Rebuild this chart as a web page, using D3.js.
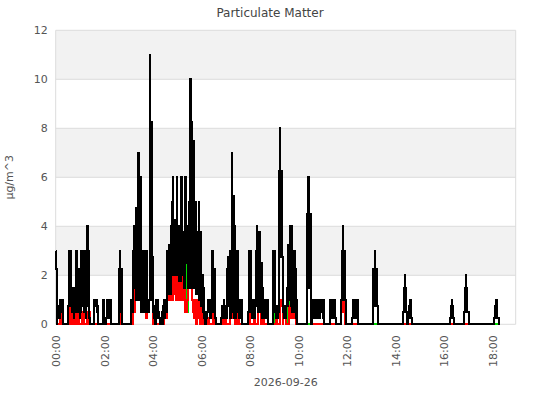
<!DOCTYPE html>
<html>
<head>
<meta charset="utf-8">
<script src="https://cdn.jsdelivr.net/npm/d3@7"></script>
<style>
  body { margin: 0; background: #fff; }
  text { font-family: "DejaVu Sans", sans-serif; }
</style>
</head>
<body>
<script>
// readings as [minutes after midnight, µg/m^3]
const day = [2026, 8, 26];
const yTicks = [0, 2, 4, 6, 8, 10, 12];
const xTickHours = [0, 2, 4, 6, 8, 10, 12, 14, 16, 18];

const pm10 = [
  [0,3],[1,2.25],[2,0],[3,0.75],[5,0.25],[7,0.75],[9,0.25],[11,1],[13,0.5],[15,1],[17,0.25],[18,0.75],[19,0],
  [31,0.75],[32,3],[33,0.75],[35,3],[36,1],[38,3],[39,0.75],[41,0.5],[43,1.5],[44,0.25],[46,1.5],[47,0.5],[49,3],[50,0.75],[52,3],[53,0.5],[55,2.25],[56,1],[58,2.25],[59,0.25],[60,1],[61,0.5],[63,3],[64,0.75],[66,3],[67,1],[68,3],[69,0.5],[71,2.25],[72,0.5],[73,2.25],[74,0.25],[76,3],[78,4],[79,3],[80,0.75],[81,3],[82,0.25],[84,0],
  [94,0.5],[95,1],[97,0.75],[99,1],[101,0.5],[103,0.75],[104,0],
  [116,0.75],[117,1],[119,0.25],[121,0],[124,0.25],[126,1],[128,0.5],[130,1],[132,0.25],[134,1],[136,0],
  [157,2.25],[158,3],[159,2.25],[160,0.5],[161,2.25],[163,0],
  [186,0.25],[187,1],[189,0.5],[191,1],[192,3],[193,4],[194,2.25],[195,4],[196,1.5],[198,4.75],[199,1],[200,4.75],[201,2.25],[202,4.75],[203,6],[204,7],[205,6],[206,1],[207,6],[208,2.25],[209,6],[210,1],[211,2.25],[212,0.5],[213,2.25],[214,0.75],[216,3],[217,0.5],[218,3],[219,0.75],[220,1.5],[222,3],[223,0.5],[224,3],[225,0.75],[227,1],[229,0.5],[231,1],[232,8.25],[233,11],[234,8.25],[235,2.75],[236,8.25],[237,2.75],[238,8.25],[239,1],[240,2.75],[241,0.5],[242,0.75],[243,0.25],[244,0.75],[246,0],[248,0.75],[249,1],[251,0.25],[252,1],[254,0.5],[256,0.25],[258,0],
  [260,0.25],[262,0.5],[264,0],[266,0.75],[267,1],[269,0.25],[271,1],[273,0.5],[275,1],[276,3],[277,1.25],[279,3.25],[280,1.5],[282,3],[283,1.25],[284,4],[285,2],[287,5],[288,2],
  [290,6],[291,2.25],[295,4.25],[296,2],[300,6],[301,2.5],[305,4],[306,1.75],[310,6],[311,2],[315,3.75],[316,1.5],[320,6],[321,2.5],[325,4],[326,1.5],
  [329,5],[330,2],[332,8.25],[333,10],[334,8.25],[335,1.5],[336,8.25],[337,2],[340,7.5],[341,2.5],[342,7.5],[343,1.5],
  [346,5],[347,1.25],[350,3.75],[351,1.5],[353,5],[354,1],[357,3.75],[358,0.75],
  [362,2],[363,0.5],[365,1.5],[366,0.25],[368,0.5],[370,0],[372,0.25],[374,0.5],[376,1],[378,0.5],[380,1],[382,0.25],[384,0.75],[386,2.25],[387,3],[388,2.25],[389,0.5],[390,2.25],[391,0.75],[392,2.25],[393,0.25],[395,0],
  [409,0.25],[411,0.75],[413,0.25],[415,1],[417,0.5],[419,0.75],[421,0.25],[423,1],[424,2.25],[425,0.75],[426,2.75],[428,1],[429,2.25],[430,0.5],[431,3],[432,0.25],[433,3],[434,1],[435,5.25],[436,7],[437,5.25],[438,0.5],[439,5.25],[440,0.25],[441,4],[442,0.75],[444,0.25],[446,0.75],[447,3],[448,0.75],[449,3],[450,0.5],[451,1],[453,0.25],[455,1],[457,0.5],[459,1],[461,0],
  [476,0.5],[477,0.75],[478,3],[480,0.5],[481,3],[482,0.75],[484,0.25],[485,1],[487,0.5],[489,1],[491,0.25],[493,1],[495,0.75],[496,3],[497,4],[498,2.75],[499,0.75],[500,3.75],[501,0.5],[502,3.25],[504,1],[505,3.75],[506,1.5],[507,2.5],[508,0.5],[509,2.5],[510,0.25],[511,1.5],[512,0.5],[513,0.75],[515,0.25],[516,1],[518,0.25],[520,1],[522,0.5],[523,1],[525,0],
  [537,0.25],[538,3],[539,0.75],[540,3],[541,0.5],[542,3],[543,0.75],[544,0.25],[546,0.75],[548,0.25],[550,0.75],[552,0.5],[553,6.25],[554,8],[555,2.75],[556,6.25],[557,2.75],[558,6.25],[559,2.75],[561,0.5],[564,0.25],[566,0.75],[568,0.25],[570,0.75],[572,1.5],[573,3.25],[574,0.75],[575,3.25],[576,1],[577,2.75],[578,1.5],[579,3.5],[580,4],[581,0.75],[582,4],[583,1.5],[584,3],[585,0.5],[586,3],[587,0.75],[588,2.25],[589,0.5],[591,3],[592,0.75],[593,2.25],[594,0.25],[595,1],[596,0],
  [620,1.5],[621,4.5],[622,1.5],[623,4.5],[624,6],[625,4.5],[626,1.5],[627,4.5],[628,1.5],[629,4.5],[630,1.5],[632,0],
  [634,0.25],[637,1],[638,0.25],[640,1],[641,0.5],[643,1],[645,0.25],[647,1],[648,0.5],[650,1],[652,0.25],[654,1],[656,0.5],[658,1],[660,0.25],[662,1],[663,0.5],[664,0],
  [678,0.25],[679,1],[680,0.25],[682,1],[684,0.25],[686,1],[688,0.25],[689,1],[691,0.25],[692,0],
  [706,1],[707,3],[708,1],[709,3],[710,4],[711,3],[712,1],[713,3],[714,1],[715,3],[716,1],[718,0],
  [733,0.25],[734,1],[736,0.5],[738,1],[740,0.25],[742,0.75],[744,1],[746,0.25],[748,0],
  [784,0.75],[785,2.25],[786,0.75],[787,2.25],[788,3],[789,2.25],[790,0.75],[791,2.25],[792,0.75],[793,2.25],[794,0.75],[797,0],
  [858,0.5],[861,1.5],[862,0.5],[863,2],[864,1.5],[865,0.5],[866,1.5],[867,0.5],[869,0],
  [871,0.25],[874,0.75],[875,0.25],[876,1],[877,0.75],[878,0.25],[881,0],
  [974,0.25],[977,0.75],[978,0.25],[979,1],[980,0.75],[981,0.25],[985,0],
  [1008,0.5],[1011,1.5],[1012,0.5],[1013,2],[1014,1.5],[1015,0.5],[1016,1.5],[1017,0.5],[1021,0],
  [1084,0.25],[1087,0.75],[1088,0.25],[1089,1],[1090,0.75],[1091,0.25],[1095,0],[1097,0]
];

const pm25 = [
  [0,0.5],[3,0],[10,0.75],[12,0],[14,0.75],[16,0],
  [33,0.75],[34,0],[36,0.75],[37,0.25],[39,0],[43,1.5],[45,0.5],[46,1.5],[48,0],[51,0.5],[53,0],[56,0.75],[58,0],[64,0.5],[65,0.25],[67,0.5],[69,0],[77,0.5],[79,0],[82,0.5],[84,0],
  [159,0.75],[160,0.5],[162,0.75],[164,0],
  [190,0.5],[195,1],[197,3.25],[199,1.5],[201,3],[203,1],[205,2.25],[207,1.25],[209,2],[211,0.5],[213,1.5],[215,0.5],[217,0.75],[219,0.5],[221,0.75],[223,0.25],[226,1],[228,0.5],[230,1],[233,2.75],[235,1],[237,2.75],[239,1],[241,0],[244,0.5],[246,0],
  [268,0.5],[272,0.25],[276,1.5],[278,2.75],[279,1],[282,2.75],[283,1],[286,2.25],[287,1],[289,2.75],[290,1.25],[293,2.75],[294,1.5],[297,2.25],[298,1],[302,2.5],[303,1.25],[306,2],[307,1],[309,2.5],[311,4],[312,1],[314,3],[315,1],[318,2],[319,0.5],[321,1],[323,0.5],[325,1],[327,2.75],[328,1.5],[331,2.75],[332,1.5],[336,2],[337,1],[339,0.5],[341,1],[343,0.25],[346,1],[348,0],[350,1],[352,0.25],[354,1],[356,0],[358,1],[360,0.25],[362,0.75],[364,0],
  [376,0.25],[378,0],[389,0.75],[390,0.5],[392,0.75],[393,0],
  [410,0.25],[414,0],[418,0.5],[420,0],[430,0.5],[432,0.25],[436,0.75],[438,0.25],[440,0.75],[442,0],[447,0.75],[449,0.25],[451,0.75],[453,0],
  [478,0.5],[480,0],[490,0.25],[492,0],[499,3],[501,0.5],[503,2],[505,0.75],[507,0],[510,0.75],[512,0],[514,0.5],[516,0],
  [545,0.5],[547,0],[555,1],[557,0.75],[559,1],[561,0],[563,0.75],[565,0.25],[567,0.75],[569,0],[577,0.75],[579,0.25],[583,1.5],[585,0.75],[588,1],[590,0.25],[593,0.75],[595,0],
  [620,1.5],[632,0],[706,0.5],[708,1],[710,0.5],[712,1],[714,0.5],[716,0],[784,0.75],[797,0],[1084,0.25],[1095,0],[1097,0]
];

const pm1 = [
  [0,0.5],[3,0],[10,0.75],[12,0],[14,0.75],[16,0],
  [33,0.75],[34,0],[36,0.75],[37,0.25],[39,0],[43,1.5],[45,0.5],[46,1.5],[48,0],[51,0.5],[53,0],[56,0.75],[58,0],[64,0.5],[65,0.25],[67,0.5],[69,0],[77,0.5],[79,0],[82,0.5],[84,0],
  [159,0.75],[160,0.5],[162,0.75],[164,0],
  [190,0.5],[195,1],[197,3.25],[199,1.5],[201,3],[203,1],[205,2.25],[207,1.25],[209,2],[211,0.5],[213,1.5],[215,0.5],[217,0.75],[219,0.5],[221,0.75],[223,0.25],[226,1],[228,0.5],[230,1],[233,2.75],[235,1],[237,2.75],[239,1],[241,0],[244,0.5],[246,0],
  [268,0.5],[272,0.25],[276,1.5],[278,2.75],[279,1],[282,2.75],[283,1],[286,2.25],[287,1],[289,2.75],[290,1.25],[293,2.75],[294,1.5],[297,2.25],[298,1],[302,2.5],[303,1.25],[306,2],[307,1],[309,2.5],[311,4],[312,1],[314,3],[315,1],[318,2],[319,0.5],[320,1.25],[321,3.75],[322,1.5],[323,3.75],[324,1],[326,0.5],[327,2.75],[328,1.5],[331,2.75],[332,1.5],[334,4.75],[335,1.5],[336,4.75],[337,1],[339,0.5],[341,1],[343,0.25],[346,1],[348,0],[350,1],[352,0.25],[354,1],[356,0],[358,1],[360,0.25],[362,0.75],[364,0],
  [376,0.25],[378,0],[389,0.75],[390,0.5],[392,0.75],[393,0],
  [410,0.25],[414,0],[418,0.5],[420,0],[430,0.5],[432,0.25],[436,1],[437,1.75],[439,1],[441,1.5],[443,0],[447,0.75],[449,0.25],[451,0.75],[453,0],
  [478,0.5],[480,0],[490,0.25],[492,0],[499,3],[501,0.5],[503,2],[505,0.75],[507,0],[510,0.75],[512,0],[514,0.5],[516,0],
  [540,0.25],[541,0.75],[543,0.25],[545,0.5],[547,0],[555,1],[557,0.75],[559,1],[561,0],[563,0.75],[565,0.25],[567,0.75],[569,0],[571,0.5],[572,1.5],[574,0.25],[576,1.5],[578,0.5],[580,3],[581,2.25],[582,0.75],[583,1.5],[585,0.75],[588,1],[590,0.25],[592,0.75],[594,0.25],[596,0],
  [706,0.5],[708,1],[710,0.5],[712,1],[714,0.5],[716,0],[1097,0]
];

const width = 540, height = 400;
const plotLeft = 55.7, plotRight = 515.7, plotTop = 30.3, plotBottom = 324.3;

const t0 = new Date(day[0], day[1], day[2], 0, 0);
const at = m => new Date(t0.getTime() + m * 60000);

const x = d3.scaleTime().domain([t0, at(1137)]).range([plotLeft, plotRight]);
const y = d3.scaleLinear().domain([0, 12]).range([plotBottom, plotTop]);

const svg = d3.select("body").append("svg")
  .attr("width", width)
  .attr("height", height);

// shaded bands on every other interval
const bands = d3.pairs(yTicks).filter((p, i) => i % 2 === 1);
svg.selectAll("rect.band")
  .data(bands)
  .enter().append("rect")
  .attr("class", "band")
  .attr("x", plotLeft)
  .attr("width", plotRight - plotLeft)
  .attr("y", d => y(d[1]))
  .attr("height", d => y(d[0]) - y(d[1]))
  .attr("fill", "#f2f2f2");

// grid
svg.selectAll("line.grid")
  .data(yTicks)
  .enter().append("line")
  .attr("class", "grid")
  .attr("x1", plotLeft).attr("x2", plotRight)
  .attr("y1", d => y(d)).attr("y2", d => y(d))
  .attr("stroke", "#dcdcdc")
  .attr("stroke-width", 1);

svg.selectAll("line.edge")
  .data([plotLeft, plotRight])
  .enter().append("line")
  .attr("class", "edge")
  .attr("x1", d => d).attr("x2", d => d)
  .attr("y1", plotTop).attr("y2", plotBottom)
  .attr("stroke", "#dcdcdc");

// series
const line = d3.line()
  .x(d => x(at(d[0])))
  .y(d => y(d[1]))
  .curve(d3.curveStepAfter);

[[pm1, "#00dd00"], [pm25, "#ff0000"], [pm10, "#000000"]].forEach(([data, color]) => {
  svg.append("path")
    .datum(data)
    .attr("d", line)
    .attr("fill", "none")
    .attr("stroke", color)
    .attr("stroke-width", 2)
    .attr("shape-rendering", "crispEdges");
});

// axes
const yAxis = svg.append("g")
  .attr("transform", `translate(${plotLeft},0)`)
  .call(d3.axisLeft(y).tickValues(yTicks).tickSize(0).tickPadding(8));
yAxis.select(".domain").remove();
yAxis.selectAll("text").attr("font-size", 11).attr("fill", "#555");

const xAxis = svg.append("g")
  .attr("transform", `translate(0,${plotBottom})`)
  .call(d3.axisBottom(x)
    .tickValues(xTickHours.map(h => at(h * 60)))
    .tickFormat(d3.timeFormat("%H:%M"))
    .tickSize(0));
xAxis.select(".domain").remove();
xAxis.selectAll("text")
  .attr("transform", "rotate(-90)")
  .attr("text-anchor", "end")
  .attr("x", -11)
  .attr("y", 0)
  .attr("dy", "0.35em")
  .attr("font-size", 11)
  .attr("fill", "#555");

// titles
svg.append("text")
  .attr("x", width / 2)
  .attr("y", 17)
  .attr("text-anchor", "middle")
  .attr("font-size", 12)
  .attr("fill", "#444")
  .text("Particulate Matter");

svg.append("text")
  .attr("x", (plotLeft + plotRight) / 2)
  .attr("y", 386)
  .attr("text-anchor", "middle")
  .attr("font-size", 11)
  .attr("fill", "#555")
  .text("2026-09-26");

svg.append("text")
  .attr("transform", `translate(13,${(plotTop + plotBottom) / 2}) rotate(-90)`)
  .attr("text-anchor", "middle")
  .attr("font-size", 11)
  .attr("fill", "#555")
  .text("µg/m^3");
</script>
</body>
</html>
